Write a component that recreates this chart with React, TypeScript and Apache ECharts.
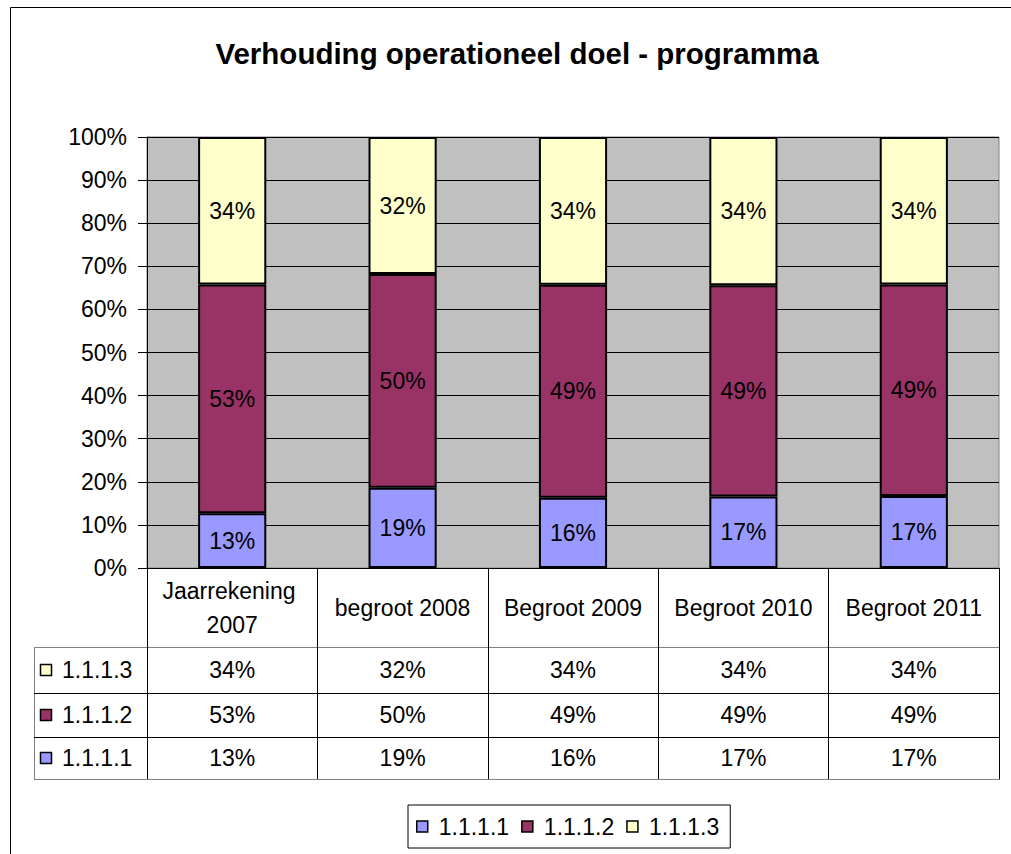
import React, { useEffect, useRef } from "react";
import * as echarts from "echarts";

const categories = ["Jaarrekening 2007", "begroot 2008", "Begroot 2009", "Begroot 2010", "Begroot 2011"];
const seriesNames = ["1.1.1.1", "1.1.1.2", "1.1.1.3"];
const values1111 = [12.7, 18.6, 16.3, 16.6, 16.7];
const values1112 = [53.1, 49.6, 49.4, 49.0, 49.1];
const values1113 = [34.2, 31.8, 34.3, 34.4, 34.2];
const seriesValues = [values1111, values1112, values1113];
const seriesColors = ["#9999FF", "#993366", "#FFFFCC"];
const yTickValues = [0, 10, 20, 30, 40, 50, 60, 70, 80, 90, 100];

const FONT = "'Liberation Sans', Arial, sans-serif";
const FS = 23;

// layout
const GRID_LEFT = 147;
const GRID_TOP = 137;
const GRID_RIGHT_X = 999;
const GRID_BOTTOM_Y = 568;
const TABLE_LEFT = 34;
const HEADER_BOTTOM = 647;
const ROW_LINES = [647, 693, 737, 779];

const pct = (v: number) => Math.round(v) + "%";

export default function App() {
  const ref = useRef<HTMLDivElement>(null);
  useEffect(() => {
    if (!ref.current) return;
    const chart = echarts.init(ref.current, undefined, { renderer: "svg" });

    // table rows top-to-bottom: 1.1.1.3, 1.1.1.2, 1.1.1.1
    const rowOrder = [2, 1, 0];
    const rowCenters = rowOrder.map((_, r) => (ROW_LINES[r] + ROW_LINES[r + 1]) / 2);

    const rowAxes = rowOrder.map((si, r) => ({
      type: "category",
      gridIndex: 0,
      position: "bottom",
      offset: rowCenters[r] - GRID_BOTTOM_Y,
      data: categories,
      axisLine: { show: false },
      axisTick: { show: false },
      splitLine: { show: false },
      axisLabel: {
        margin: 0,
        verticalAlign: "middle",
        fontFamily: FONT,
        fontSize: FS,
        color: "#000",
        formatter: (_v: string, idx: number) => pct(seriesValues[si][idx]),
      },
    }));

    const graphics: any[] = [
      {
        type: "rect",
        silent: true,
        shape: { x: 10.5, y: 7.5, width: 1100, height: 1000 },
        style: { fill: "none", stroke: "#000", lineWidth: 1 },
      },
      {
        type: "line",
        silent: true,
        shape: { x1: TABLE_LEFT + 0.5, y1: HEADER_BOTTOM, x2: TABLE_LEFT + 0.5, y2: ROW_LINES[3] },
        style: { stroke: "#808080", lineWidth: 1 },
      },
    ];
    ROW_LINES.forEach((y, i) => {
      graphics.push({
        type: "line",
        silent: true,
        shape: { x1: TABLE_LEFT, y1: y + 0.5, x2: GRID_RIGHT_X + 1, y2: y + 0.5 },
        style: { stroke: i === 0 || i === 3 ? "#808080" : "#000", lineWidth: 1 },
      });
    });
    rowOrder.forEach((si, r) => {
      graphics.push({
        type: "rect",
        silent: true,
        shape: { x: 40.5, y: rowCenters[r] - 5.5, width: 11, height: 11 },
        style: { fill: seriesColors[si], stroke: "#000", lineWidth: 1.5 },
      });
      graphics.push({
        type: "text",
        silent: true,
        x: 62,
        y: rowCenters[r],
        style: {
          text: seriesNames[si],
          font: `${FS}px ${FONT}`,
          fill: "#000",
          verticalAlign: "middle",
          align: "left",
        },
      });
    });

    const option: any = {
      animation: false,
      backgroundColor: "#fff",
      title: {
        text: "Verhouding operationeel doel - programma",
        left: 512,
        textAlign: "center",
        top: 33,
        textStyle: { fontFamily: FONT, fontSize: 29.5, fontWeight: "bold", color: "#000" },
      },
      legend: {
        data: seriesNames,
        left: 408,
        top: 805,
        orient: "horizontal",
        borderColor: "#000",
        borderWidth: 1,
        padding: [10, 11, 10, 8],
        itemWidth: 11,
        itemHeight: 11,
        itemGap: 12,
        icon: "rect",
        itemStyle: { borderColor: "#000", borderWidth: 1.5 },
        textStyle: { fontFamily: FONT, fontSize: FS, color: "#000", padding: [0, 0, 0, 6] },
      },
      grid: {
        left: GRID_LEFT,
        top: GRID_TOP,
        right: 1011 - GRID_RIGHT_X,
        bottom: 854 - GRID_BOTTOM_Y,
        show: true,
        backgroundColor: "#C0C0C0",
        borderColor: "#808080",
        borderWidth: 1,
      },
      xAxis: [
        {
          type: "category",
          data: categories,
          boundaryGap: true,
          axisLine: { show: true, lineStyle: { color: "#000", width: 1 } },
          axisTick: {
            show: true,
            alignWithLabel: false,
            inside: false,
            length: ROW_LINES[3] - GRID_BOTTOM_Y,
            lineStyle: { color: "#000", width: 1 },
          },
          axisLabel: {
            margin: (HEADER_BOTTOM - GRID_BOTTOM_Y) / 2,
            verticalAlign: "middle",
            fontFamily: FONT,
            fontSize: FS,
            color: "#000",
            lineHeight: 34,
            width: 155,
            overflow: "break",
            interval: 0,
          },
          splitLine: { show: false },
        },
        ...rowAxes,
      ],
      yAxis: {
        type: "value",
        min: yTickValues[0],
        max: yTickValues[yTickValues.length - 1],
        interval: 10,
        axisLine: { show: true, lineStyle: { color: "#000" } },
        axisTick: { show: true, length: 9, lineStyle: { color: "#000" } },
        axisLabel: {
          formatter: "{value}%",
          fontFamily: FONT,
          fontSize: FS,
          color: "#000",
          margin: 20,
        },
        splitLine: { show: true, lineStyle: { color: "#000", width: 1 } },
      },
      series: seriesNames.map((name, si) => ({
        name,
        type: "bar",
        stack: "total",
        barWidth: "40%",
        data: seriesValues[si],
        itemStyle: { color: seriesColors[si], borderColor: "#000", borderWidth: 2 },
        label: {
          show: true,
          position: "inside",
          fontFamily: FONT,
          fontSize: FS,
          color: "#000",
          formatter: (p: any) => pct(p.value),
        },
      })),
      graphic: graphics,
    };
    chart.setOption(option);
    return () => chart.dispose();
  }, []);
  return (
    <div
      ref={ref}
      style={{ position: "fixed", left: 0, top: 0, width: 1011, height: 854, background: "#fff" }}
    />
  );
}
